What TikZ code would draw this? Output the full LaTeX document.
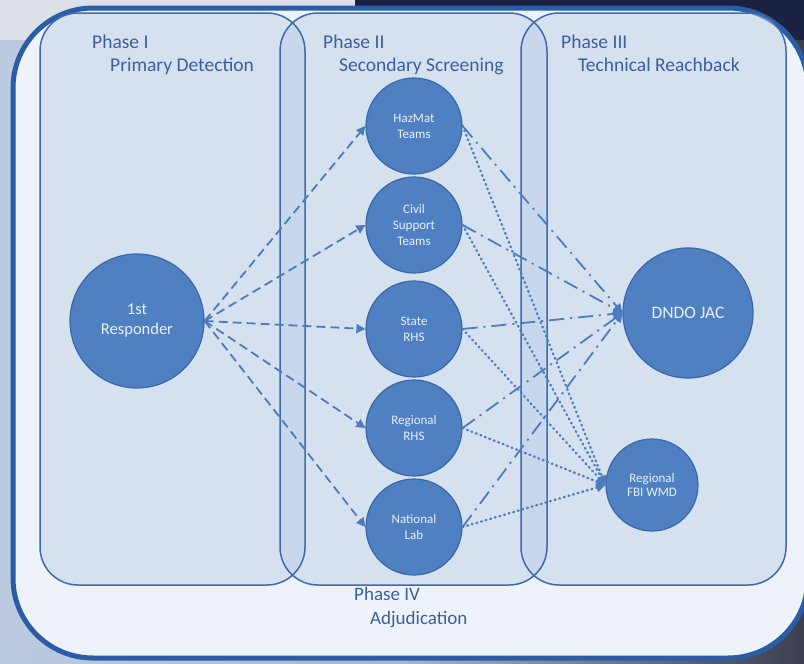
\documentclass[tikz,border=0pt]{standalone}
\usepackage{fontspec}
\setmainfont{Carlito}
\usetikzlibrary{arrows.meta}
\definecolor{bgleft}{HTML}{BCCBE0}
\definecolor{bgmid}{HTML}{A9B6C8}
\definecolor{bgright}{HTML}{3B3F50}
\definecolor{bgnavy}{HTML}{1B2140}
\definecolor{bgtop}{HTML}{DCE1E9}
\definecolor{outerfill}{HTML}{EEF3FA}
\definecolor{outeredge}{HTML}{2A5DA6}
\definecolor{phasefill}{HTML}{B9CDE6}
\definecolor{phaseedge}{HTML}{3D6BAE}
\definecolor{cfill}{HTML}{4F81C2}
\definecolor{cedge}{HTML}{3A68A8}
\definecolor{ctext}{HTML}{E8EFF8}
\definecolor{ptext}{HTML}{3A5F9C}
\definecolor{lblue}{HTML}{4A7CC0}
\tikzset{
  phasebox/.style={rounded corners=38pt},
  phaselabel/.style={anchor=base west, text=ptext, font=\fontsize{19.5}{22}\selectfont, inner sep=0pt},
  circnode/.style={circle, fill=cfill, draw=cedge, line width=1.2pt, text=ctext, align=center, inner sep=0pt},
  smallfont/.style={font=\fontsize{13}{16}\selectfont},
  tipstyle/.style={-{Triangle[length=9pt,width=9pt]}},
  dasharrow/.style={draw=lblue, line width=1.8pt, dash pattern=on 9pt off 5pt, tipstyle},
  dashdotarrow/.style={draw=lblue, line width=1.8pt, dash pattern=on 15pt off 6pt on 2pt off 6pt, tipstyle},
  dotarrow/.style={draw=lblue, line width=2.4pt, line cap=round, dash pattern=on 0.8pt off 4pt, tipstyle}
}
\begin{document}
\begin{tikzpicture}[x=1pt,y=-1pt]
\useasboundingbox (0,0) rectangle (804,664);
% background
\shade[left color=bgleft, right color=bgright, middle color=bgmid] (0,0) rectangle (804,664);
\fill[bgtop] (0,0) rectangle (355,40);
\fill[bgnavy] (355,0) rectangle (804,40);
% Phase IV outer
\draw[fill=outerfill, draw=outeredge, line width=5pt, rounded corners=80pt] (13,8) rectangle (808,658);
% Phase boxes fill
\fill[phasefill, fill opacity=0.45, phasebox] (40,13) rectangle (305,585);
\fill[phasefill, fill opacity=0.45, phasebox] (280,13) rectangle (547,585);
\fill[phasefill, fill opacity=0.45, phasebox] (521,13) rectangle (786,585);
\draw[phaseedge, line width=1.5pt, phasebox] (40,13) rectangle (305,585);
\draw[phaseedge, line width=1.5pt, phasebox] (280,13) rectangle (547,585);
\draw[phaseedge, line width=1.5pt, phasebox] (521,13) rectangle (786,585);
% labels
\node[phaselabel] (p1a) at (92,48) {Phase I};
\node[phaselabel] (p1b) at (110,71) {Primary Detection};
\node[phaselabel] (p2a) at (323,48) {Phase II};
\node[phaselabel] (p2b) at (339,71) {Secondary Screening};
\node[phaselabel] (p3a) at (561,48) {Phase III};
\node[phaselabel] (p3b) at (578,71) {Technical Reachback};
\node[phaselabel, font=\fontsize{19}{22}\selectfont] (p4a) at (354,600) {Phase IV};
\node[phaselabel, font=\fontsize{19}{22}\selectfont] (p4b) at (370,624) {Adjudication};
% circles
\node[circnode, minimum size=134pt, font=\fontsize{16.5}{20}\selectfont] (resp) at (137,321) {1st\\Responder};
\node[circnode, minimum size=96pt, smallfont] (hazmat) at (414,126) {HazMat\\Teams};
\node[circnode, minimum size=96pt, smallfont] (civil) at (414,225) {Civil\\Support\\Teams};
\node[circnode, minimum size=96pt, smallfont] (state) at (414,329) {State\\RHS};
\node[circnode, minimum size=96pt, smallfont] (regional) at (414,428) {Regional\\RHS};
\node[circnode, minimum size=96pt, smallfont] (natlab) at (414,527) {National\\Lab};
\node[circnode, minimum size=130pt, font=\fontsize{17.5}{20}\selectfont] (dndo) at (688,313) {DNDO JAC};
\node[circnode, minimum size=92pt, font=\fontsize{13}{14}\selectfont] (fbi) at (652,485) {Regional\\FBI WMD};
% phase I -> II
\foreach \t in {hazmat,civil,state,regional,natlab}
  \draw[dasharrow] (resp.east) -- (\t.west);
% phase II -> DNDO
\foreach \s in {hazmat,civil,state,regional,natlab}
  \draw[dashdotarrow] (\s.east) -- (dndo.west);
% phase II -> FBI
\foreach \s in {hazmat,civil,state,regional,natlab}
  \draw[dotarrow] (\s.east) -- (fbi.west);
\end{tikzpicture}
\end{document}
